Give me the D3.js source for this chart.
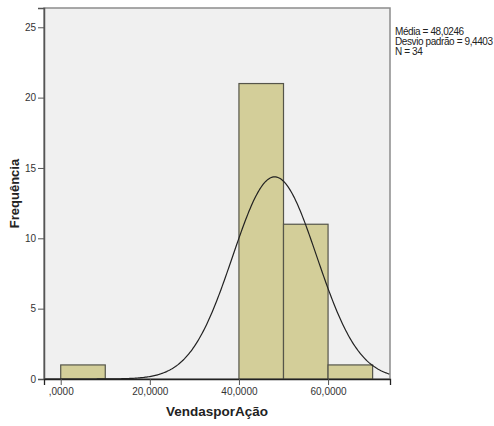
<!DOCTYPE html>
<html>
<head>
<meta charset="utf-8">
<script src="https://cdn.jsdelivr.net/npm/d3@7"></script>
<style>
  body { margin: 0; background: #fff; }
  text { font-family: "Liberation Sans", Arial, sans-serif; }
</style>
</head>
<body>
<svg id="chart"></svg>
<script>
const WIDTH = 494
const HEIGHT = 426

// histogram bins (start, end) and counts
const BIN_STARTS = [0, 40, 50, 60]
const BIN_ENDS = [10, 50, 60, 70]
const COUNTS = [1, 21, 11, 1]

const Y_TICKS = [0, 5, 10, 15, 20, 25]
const X_TICKS = [0, 20, 40, 60]
const X_TICK_LABELS = [',0000', '20,0000', '40,0000', '60,0000']

const MEAN = 48.0246
const SD = 9.4403
const N = 34
const BIN_WIDTH = 10
const STATS_LINES = ['Média = 48,0246', 'Desvio padrão = 9,4403', 'N = 34']

const margin = { left: 44, top: 8, right: 104, bottom: 47 }
const plotW = WIDTH - margin.left - margin.right
const plotH = HEIGHT - margin.top - margin.bottom

const svg = d3.select('#chart')
    .attr('width', WIDTH)
    .attr('height', HEIGHT)

const x = d3.scaleLinear().domain([-3.75, 73.9]).range([0, plotW])
const y = d3.scaleLinear().domain([0, 26.37]).range([plotH, 0])

const g = svg.append('g')
    .attr('transform', `translate(${margin.left},${margin.top})`)

g.append('rect')
    .attr('width', plotW)
    .attr('height', plotH)
    .attr('fill', '#f0f0f0')
    .attr('stroke', '#8c8c8c')
    .attr('stroke-width', 1.5)

const bins = BIN_STARTS.map((s, i) => ({ x0: s, x1: BIN_ENDS[i], n: COUNTS[i] }))

g.selectAll('rect.bar')
    .data(bins)
    .enter().append('rect')
        .attr('class', 'bar')
        .attr('x', d => x(d.x0))
        .attr('y', d => y(d.n))
        .attr('width', d => x(d.x1) - x(d.x0))
        .attr('height', d => y(0) - y(d.n))
        .attr('fill', '#d3ce99')
        .attr('stroke', '#55554a')
        .attr('stroke-width', 1.2)

// normal curve scaled to counts
const curveXs = d3.range(-3.75, 73.91, 0.25)
const pdf = v => N * BIN_WIDTH / (SD * Math.sqrt(2 * Math.PI)) * Math.exp(-0.5 * ((v - MEAN) / SD) ** 2)
const line = d3.line().x(v => x(v)).y(v => y(pdf(v)))

g.append('path')
    .datum(curveXs)
    .attr('d', line)
    .attr('fill', 'none')
    .attr('stroke', '#222')
    .attr('stroke-width', 1.2)

// axes
const yAxis = d3.axisLeft(y).tickValues(Y_TICKS).tickSize(6).tickPadding(2)
const yG = g.append('g').call(yAxis)
yG.select('.domain').attr('stroke', '#555').attr('stroke-width', 1.5)
yG.selectAll('.tick line').attr('stroke', '#555')
yG.selectAll('.tick text').attr('fill', '#333').style('font-size', '10px')

const xAxis = d3.axisBottom(x).tickValues(X_TICKS)
    .tickFormat((d, i) => X_TICK_LABELS[i]).tickSize(6).tickPadding(3)
const xG = g.append('g').attr('transform', `translate(0,${plotH})`).call(xAxis)
xG.select('.domain').attr('stroke', '#222').attr('stroke-width', 1.3)
xG.selectAll('.tick line').attr('stroke', '#555')
xG.selectAll('.tick text').attr('fill', '#333').style('font-size', '10px')

// axis titles
svg.append('text')
    .attr('x', margin.left + plotW / 2)
    .attr('y', 416)
    .attr('text-anchor', 'middle')
    .style('font-size', '13.5px')
    .style('font-weight', 'bold')
    .attr('fill', '#222')
    .text('VendasporAção')

svg.append('text')
    .attr('transform', `translate(19,${margin.top + plotH / 2}) rotate(-90)`)
    .attr('text-anchor', 'middle')
    .style('font-size', '13px')
    .style('font-weight', 'bold')
    .attr('fill', '#222')
    .text('Frequência')

// stats box text
svg.selectAll('text.stat')
    .data(STATS_LINES)
    .enter().append('text')
        .attr('class', 'stat')
        .attr('x', 395)
        .attr('y', (d, i) => 35 + i * 10)
        .style('font-size', '10px')
        .style('letter-spacing', '-0.4px')
        .attr('fill', '#222')
        .text(d => d)
</script>
</body>
</html>
